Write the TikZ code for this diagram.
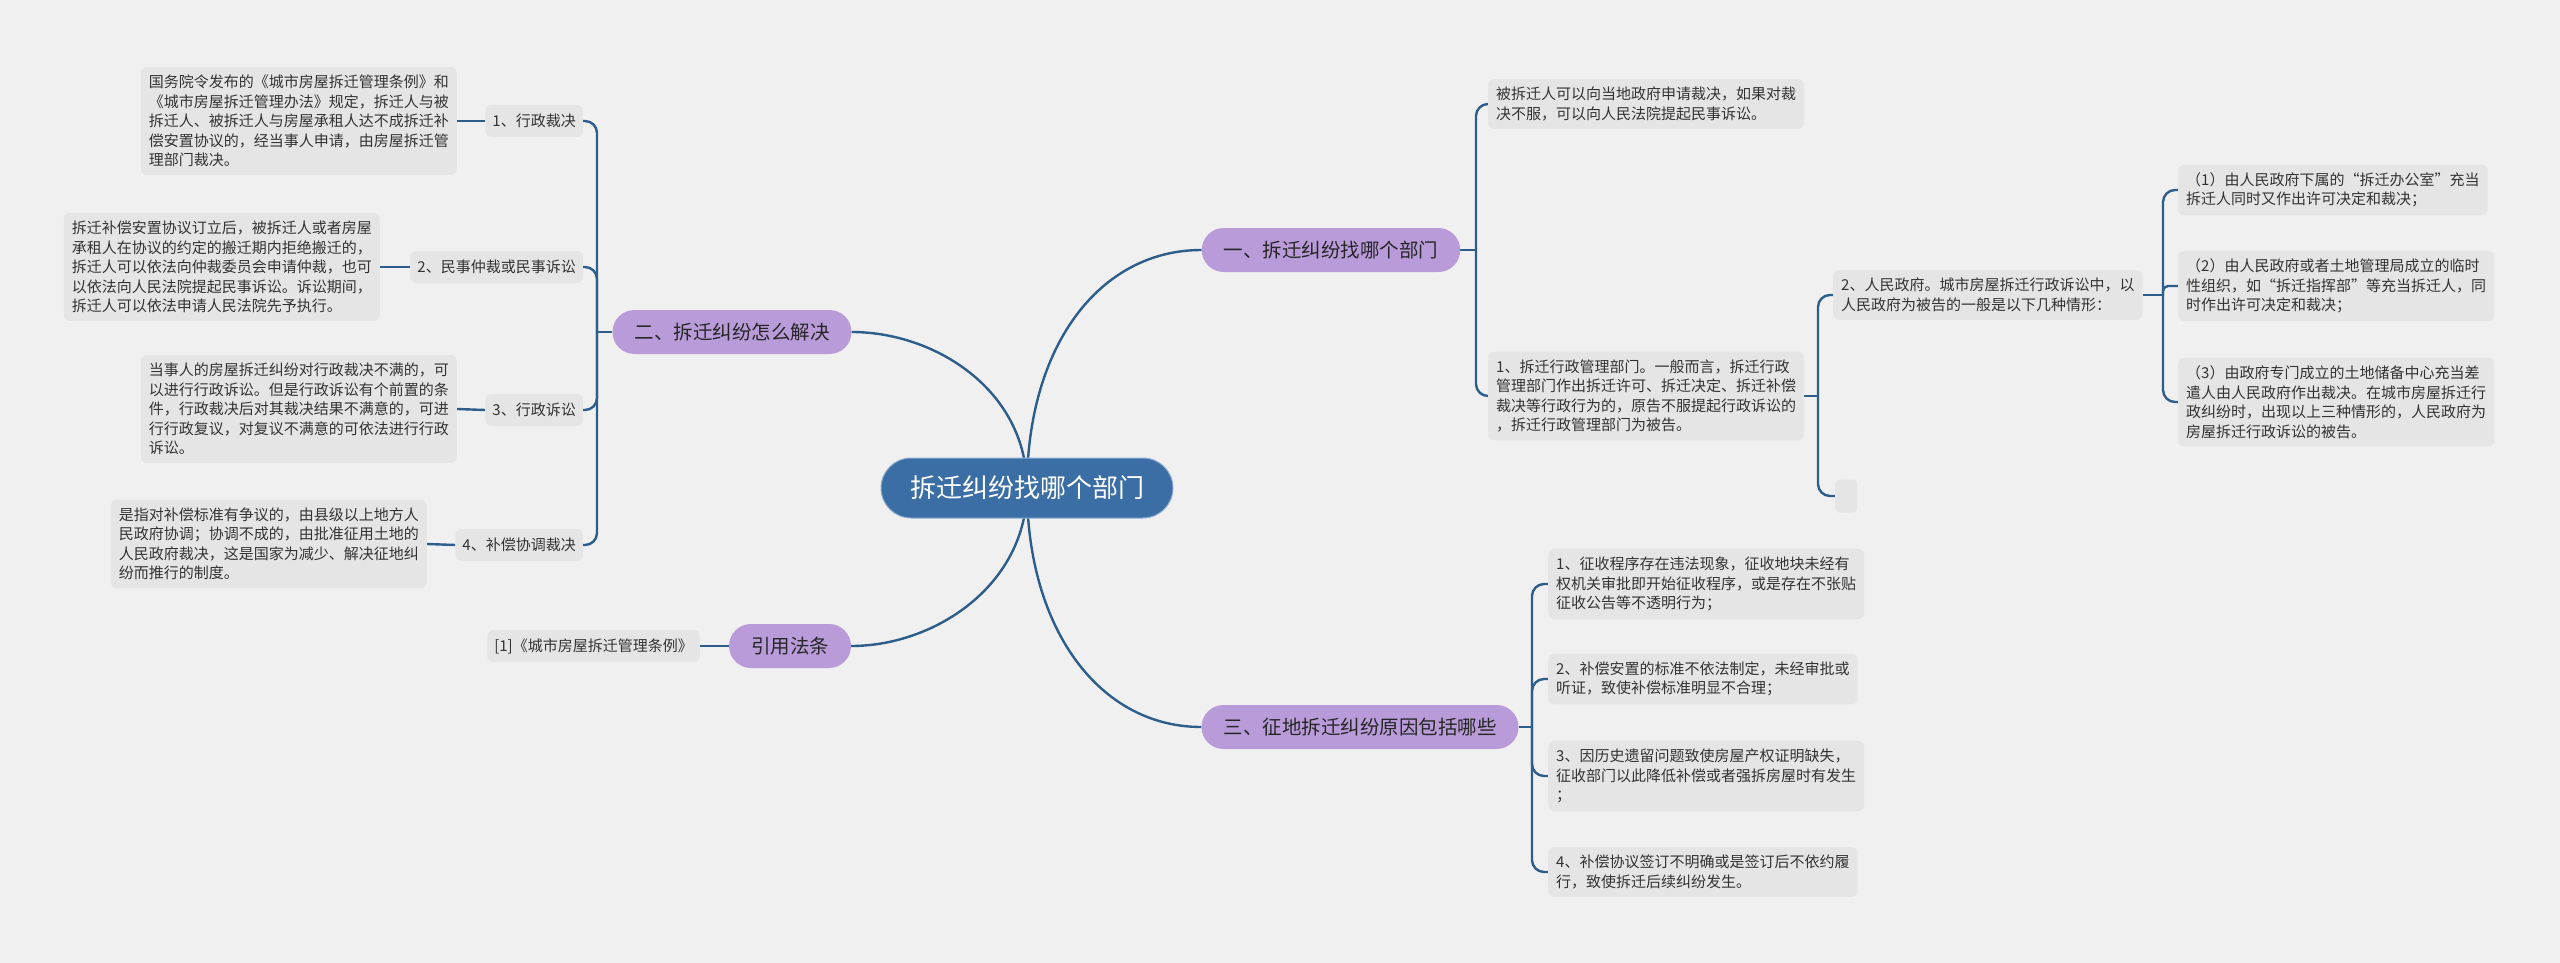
\documentclass[tikz,border=0pt]{standalone}
\usepackage{fontspec}
\setmainfont{Noto Sans CJK SC}
\usetikzlibrary{backgrounds}
\definecolor{bgc}{HTML}{F0F0F0}
\definecolor{leafc}{HTML}{E5E5E5}
\definecolor{purp}{HTML}{B89BD8}
\definecolor{cblue}{HTML}{3A6EA5}
\definecolor{cbord}{HTML}{8FB0D3}
\definecolor{lnc}{HTML}{2D5D8B}
\definecolor{txt}{HTML}{333333}
\begin{document}
\begin{tikzpicture}[x=1pt,y=-1pt,
  leaf/.style={fill=leafc, rounded corners=6pt, inner xsep=8pt, inner ysep=8pt, align=left, text=txt, font=\fontsize{15}{19.5}\selectfont},
  lab/.style={fill=leafc, rounded corners=6pt, inner xsep=7pt, inner ysep=4pt, minimum height=32pt, text=txt, font=\fontsize{15}{19.5}\selectfont},
  branch/.style={fill=purp, rounded corners=22pt, inner xsep=22pt, minimum height=44pt, text=black!85, font=\fontsize{19.5}{24}\selectfont},
  root/.style={fill=cblue, draw=cbord, line width=1pt, rounded corners=30pt, minimum width=292pt, minimum height=60pt, text=white, font=\fontsize{26}{30}\selectfont},
  conn/.style={draw=lnc, line width=2.4pt},
  rc/.style={rounded corners=12pt}
]
\useasboundingbox (0,0) rectangle (2560,963);

% root and main branches
\node[root] (c) at (1027,488) {拆迁纠纷找哪个部门};
\node[branch] (b1) at (1331,250) {一、拆迁纠纷找哪个部门};
\node[branch] (b2) at (732,332) {二、拆迁纠纷怎么解决};
\node[branch] (b3) at (790,646) {引用法条};
\node[branch] (b4) at (1360,727) {三、征地拆迁纠纷原因包括哪些};

% left side
\node[lab, anchor=east] (l1) at (583,121) {1、行政裁决};
\node[lab, anchor=east] (l2) at (583,267) {2、民事仲裁或民事诉讼};
\node[lab, anchor=east] (l3) at (583,410) {3、行政诉讼};
\node[lab, anchor=east] (l4) at (583,545) {4、补偿协调裁决};
\node[leaf, anchor=east] (t1) at (457,121) {国务院令发布的《城市房屋拆迁管理条例》和\\《城市房屋拆迁管理办法》规定，拆迁人与被\\拆迁人、被拆迁人与房屋承租人达不成拆迁补\\偿安置协议的，经当事人申请，由房屋拆迁管\\理部门裁决。};
\node[leaf, anchor=east] (t2) at (380,267) {拆迁补偿安置协议订立后，被拆迁人或者房屋\\承租人在协议的约定的搬迁期内拒绝搬迁的，\\拆迁人可以依法向仲裁委员会申请仲裁，也可\\以依法向人民法院提起民事诉讼。诉讼期间，\\拆迁人可以依法申请人民法院先予执行。};
\node[leaf, anchor=east] (t3) at (457,409) {当事人的房屋拆迁纠纷对行政裁决不满的，可\\以进行行政诉讼。但是行政诉讼有个前置的条\\件，行政裁决后对其裁决结果不满意的，可进\\行行政复议，对复议不满意的可依法进行行政\\诉讼。};
\node[leaf, anchor=east] (t4) at (427,544) {是指对补偿标准有争议的，由县级以上地方人\\民政府协调；协调不成的，由批准征用土地的\\人民政府裁决，这是国家为减少、解决征地纠\\纷而推行的制度。};
\node[lab, anchor=east] (ref) at (700,646) {[1]《城市房屋拆迁管理条例》};

% right side, branch one
\node[leaf, anchor=west] (r1) at (1488,104) {被拆迁人可以向当地政府申请裁决，如果对裁\\决不服，可以向人民法院提起民事诉讼。};
\node[leaf, anchor=west] (r2) at (1488,396) {1、拆迁行政管理部门。一般而言，拆迁行政\\管理部门作出拆迁许可、拆迁决定、拆迁补偿\\裁决等行政行为的，原告不服提起行政诉讼的\\，拆迁行政管理部门为被告。};
\node[leaf, anchor=west] (r3) at (1833,295) {2、人民政府。城市房屋拆迁行政诉讼中，以\\人民政府为被告的一般是以下几种情形：};
\node[fill=leafc, rounded corners=4pt, minimum width=22pt, minimum height=33pt, inner sep=0pt, anchor=west] (r0) at (1835,496) {};
\node[leaf, anchor=west] (r4) at (2178,190) {（1）由人民政府下属的“拆迁办公室”充当\\拆迁人同时又作出许可决定和裁决；};
\node[leaf, anchor=west] (r5) at (2178,286) {（2）由人民政府或者土地管理局成立的临时\\性组织，如“拆迁指挥部”等充当拆迁人，同\\时作出许可决定和裁决；};
\node[leaf, anchor=west] (r6) at (2178,402) {（3）由政府专门成立的土地储备中心充当差\\遣人由人民政府作出裁决。在城市房屋拆迁行\\政纠纷时，出现以上三种情形的，人民政府为\\房屋拆迁行政诉讼的被告。};

% right side, branch three
\node[leaf, anchor=west] (s1) at (1548,584) {1、征收程序存在违法现象，征收地块未经有\\权机关审批即开始征收程序，或是存在不张贴\\征收公告等不透明行为；};
\node[leaf, anchor=west] (s2) at (1548,679) {2、补偿安置的标准不依法制定，未经审批或\\听证，致使补偿标准明显不合理；};
\node[leaf, anchor=west] (s3) at (1548,776) {3、因历史遗留问题致使房屋产权证明缺失，\\征收部门以此降低补偿或者强拆房屋时有发生\\；};
\node[leaf, anchor=west] (s4) at (1548,872) {4、补偿协议签订不明确或是签订后不依约履\\行，致使拆迁后续纠纷发生。};

\coordinate (j2) at (597,332);
\coordinate (k1) at (1476,250);
\coordinate (k2) at (1818,396);
\coordinate (k3) at (2163,295);
\coordinate (k4) at (1532,727);

\begin{scope}[on background layer]
\fill[bgc] (0,0) rectangle (2560,963);
% root to branches
\draw[conn] (c.center) .. controls (1027,345) and (1100,250) .. (b1.west);
\draw[conn] (c.center) .. controls (1027,390) and (935,332) .. (b2.east);
\draw[conn] (c.center) .. controls (1027,585) and (935,646) .. (b3.east);
\draw[conn] (c.center) .. controls (1027,630) and (1100,727) .. (b4.west);
% branch two
\draw[conn] (b2.west) -- (j2);
\foreach \n in {l1,l2,l3,l4} \draw[conn,rc] (j2) |- (\n.east);
\draw[conn] (t1.east) -- (l1.west);
\draw[conn] (t2.east) -- (l2.west);
\draw[conn] (t3.east) -- (l3.west);
\draw[conn] (t4.east) -- (l4.west);
\draw[conn] (ref.east) -- (b3.west);
% branch one
\draw[conn] (b1.east) -- (k1);
\draw[conn,rc] (k1) |- (r1.west);
\draw[conn,rc] (k1) |- (r2.west);
\draw[conn] (r2.east) -- (k2);
\draw[conn,rc] (k2) |- (r3.west);
\draw[conn,rc] (k2) |- (r0.west);
\draw[conn] (r3.east) -- (k3);
\draw[conn,rc] (k3) |- (r4.west);
\draw[conn,rounded corners=5pt] (k3) |- (r5.west);
\draw[conn,rc] (k3) |- (r6.west);
% branch three
\draw[conn] (b4.east) -- (k4);
\foreach \n in {s1,s2,s3,s4} \draw[conn,rc] (k4) |- (\n.west);
\end{scope}
\end{tikzpicture}
\end{document}
